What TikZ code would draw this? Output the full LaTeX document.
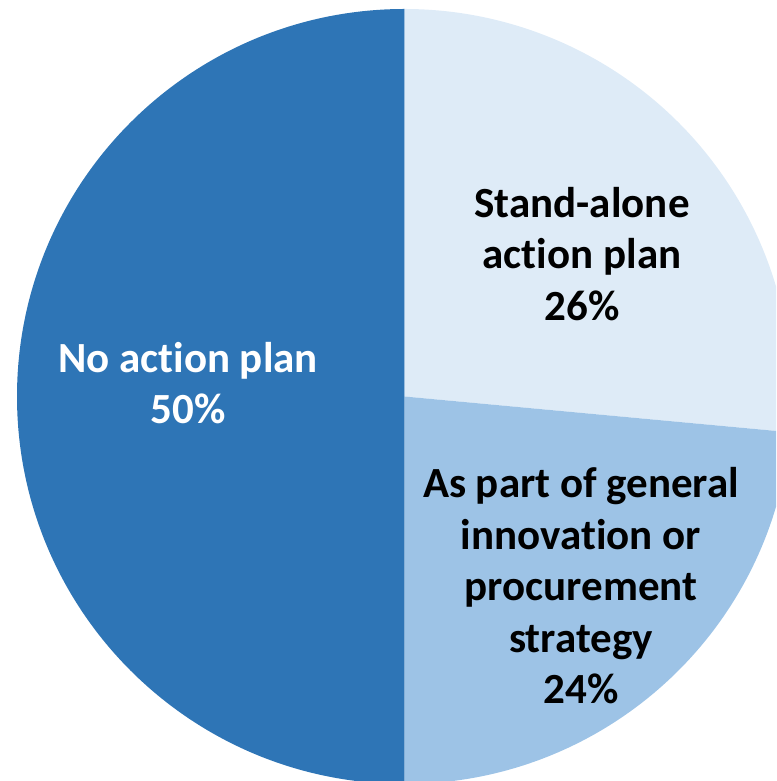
\documentclass[tikz,border=0pt]{standalone}
\usepackage{fontspec}
\setmainfont[Ligatures={NoCommon}]{Carlito}
\definecolor{darkslice}{HTML}{2E75B6}
\definecolor{lightslice}{HTML}{DEEBF7}
\definecolor{midslice}{HTML}{9DC3E6}

\begin{document}
\begin{tikzpicture}
        [x=1pt,y=1pt,every node/.style={align=center,inner sep=0,font=\bfseries\fontsize{43}{51.5}\selectfont}]

        \useasboundingbox (0,0) rectangle (776,781);
        \clip (0,0) rectangle (776,781);
        \coordinate (c) at (404.5,384.5);

        \fill[darkslice] (c) -- ++(90:387.5) arc (90:270:387.5) -- cycle;
        \fill[lightslice] (c) -- ++(-5.3:387.5) arc (-5.3:90:387.5) -- cycle;
        \fill[midslice] (c) -- ++(-90:387.5) arc (-90:-5.3:387.5) -- cycle;

        \node[white] (noplan) at (188,398) {No action plan\\50\%};
        \node[black] (standalone) at (582,527) {Stand-alone\\action plan\\26\%};
        \node[black] (general) at (581,195) {As part of general\\innovation or\\procurement\\strategy\\24\%};
      \end{tikzpicture}
\end{document}
